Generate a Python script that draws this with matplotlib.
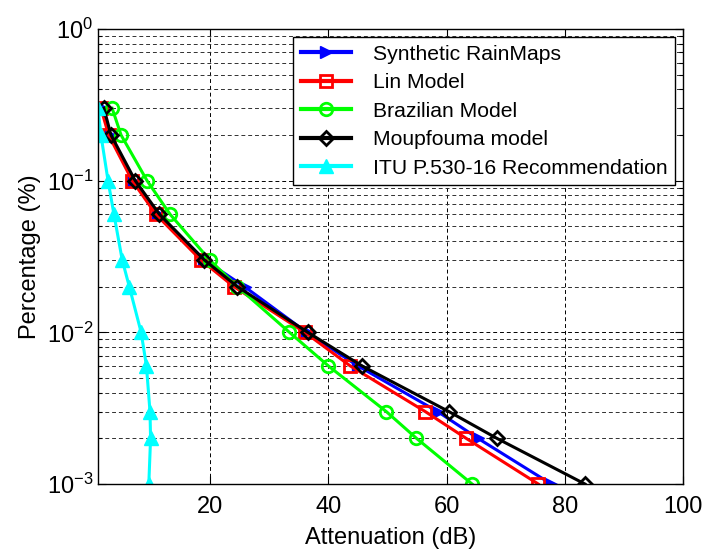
import numpy as np
import matplotlib
matplotlib.use("Agg")
import matplotlib.pyplot as plt
from matplotlib.ticker import LogLocator, FixedLocator, NullFormatter

plt.rcParams['font.family'] = ['Liberation Sans', 'DejaVu Sans']
plt.rcParams['mathtext.default'] = 'regular'

# exceedance percentages (same for every curve)
percentage = [0.3, 0.2, 0.1, 0.06, 0.03, 0.02, 0.01, 0.006, 0.003, 0.002, 0.001]

# attenuation values (dB)
synthetic = [1.6, 3.0, 7.0, 11.2, 19.0, 25.8, 36.3, 45.0, 58.5, 65.3, 77.7]
lin = [1.5, 2.8, 6.8, 10.8, 18.4, 24.0, 36.0, 43.7, 56.4, 63.3, 75.5]
brazilian = [3.4, 4.9, 9.3, 13.2, 19.9, 24.6, 33.4, 40.0, 49.8, 54.9, 64.3]
moupfouma = [2.0, 3.2, 7.3, 11.4, 19.0, 24.6, 36.5, 45.7, 60.4, 68.5, 83.4]
itu = [1.0, 1.5, 2.7, 3.7, 5.1, 6.3, 8.3, 9.2, 9.8, 9.9, 9.6]

labels = ["Synthetic RainMaps", "Lin Model", "Brazilian Model",
          "Moupfouma model", "ITU P.530-16 Recommendation"]

fig = plt.figure(figsize=(7.08, 5.52), dpi=100)
ax = fig.add_axes([0.1384, 0.1232, 0.8263, 0.8243])

lw = 2.2
ax.plot(synthetic, percentage, color='blue', marker='>', ms=9, lw=lw,
        mfc='blue', label=labels[0])
ax.plot(lin, percentage, color='red', marker='s', ms=9, lw=lw,
        mfc='none', mew=2, label=labels[1])
ax.plot(brazilian, percentage, color=(0, 1, 0), marker='o', ms=9, lw=lw,
        mfc='none', mew=2, label=labels[2])
ax.plot(moupfouma, percentage, color='black', marker='D', ms=7, lw=lw,
        mfc='none', mew=2, label=labels[3])
ax.plot(itu, percentage, color='cyan', marker='^', ms=10, lw=lw,
        mfc='cyan', label=labels[4])

ax.set_yscale('log')
ax.set_xlim(1, 100)
ax.set_ylim(1e-3, 1)
ax.xaxis.set_major_locator(FixedLocator([20, 40, 60, 80, 100]))
ax.yaxis.set_major_locator(LogLocator(base=10))
ax.yaxis.set_minor_locator(LogLocator(base=10, subs=np.arange(2, 10)))
ax.yaxis.set_minor_formatter(NullFormatter())

dash = (0, (4, 3))
ax.grid(True, which='major', color='black', ls=dash, lw=0.7)
ax.grid(True, which='minor', axis='y', color='#303030', ls=dash, lw=0.7)

ax.tick_params(which='both', direction='in', top=True, right=True,
               labelsize=17, width=0.8)
ax.tick_params(which='major', length=6)
ax.tick_params(which='minor', length=3)
ax.tick_params(axis='x', pad=9)
for s in ax.spines.values():
    s.set_linewidth(1.0)

ax.set_xlabel("Attenuation (dB)", fontsize=17, labelpad=6)
ax.set_ylabel("Percentage (%)", fontsize=17)

leg = ax.legend(loc='upper right', fontsize=15.2, numpoints=1, fancybox=False,
                framealpha=1, edgecolor='black', borderaxespad=0.4,
                handlelength=2.4, labelspacing=0.45, handletextpad=1.0,
                borderpad=0.35)
leg.get_frame().set_linewidth(1.0)
for h in leg.get_lines():
    h.set_linewidth(3)

fig.savefig("out.png", dpi=100)
